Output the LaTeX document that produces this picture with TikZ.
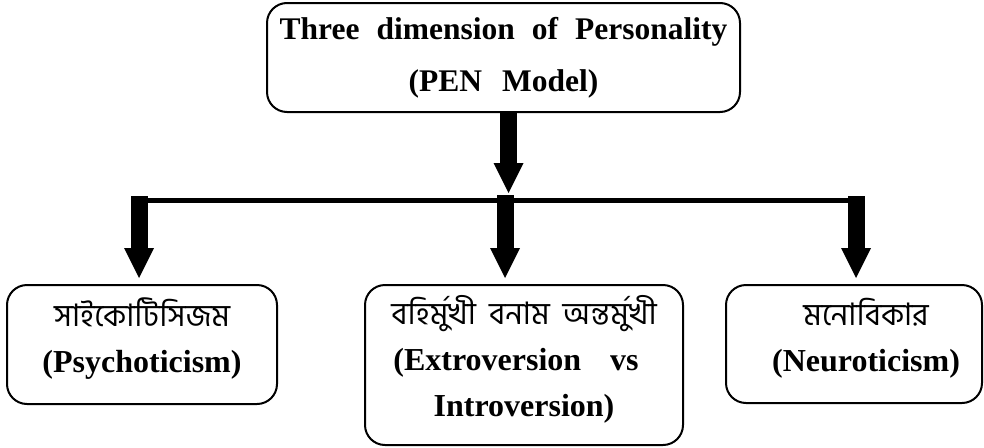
\documentclass[tikz,border=0pt]{standalone}
\usepackage{fontspec}
\setmainfont{Liberation Serif}
\newfontfamily\bengali[Script=Bengali]{Hind Siliguri}
\usetikzlibrary{arrows.meta,calc}

\newcommand{\bnline}[1]{{\bengali\mdseries\fontsize{31}{46}\selectfont #1}}
% extra depth under the last line lifts the text block a little
\newcommand{\lowpad}{\rule[-19pt]{0pt}{0pt}}

\begin{document}
\begin{tikzpicture}[x=1pt,y=-1pt,
  box/.style={draw, line width=2pt, rounded corners=20pt, align=center, inner sep=0pt,
    execute at begin node={\lineskiplimit=-100pt\relax}},
  entext/.style={font=\bfseries\fontsize{32}{46}\selectfont},
  blockarrow/.style={line width=17pt,
    -{Triangle[width=30pt,length=30pt,line width=0pt]}},
  bar/.style={line width=5pt}]
\useasboundingbox (0,0) rectangle (984,447);

% the four boxes
\node[box, font=\bfseries\fontsize{31.5}{52}\selectfont,
      minimum width=473pt, minimum height=109pt] (pen) at (503.5,57.5)
  {Three\hspace{17pt}dimension\hspace{17pt}of\hspace{17pt}Personality\\(PEN\hspace{20pt}Model)};

\node[box, entext, minimum width=270pt, minimum height=119pt] (psy) at (142,344.5)
  {\bnline{সাইকোটিসিজম}\\(Psychoticism)\lowpad};

\node[box, entext, minimum width=318pt, minimum height=160pt] (ext) at (524,365)
  {\bnline{বহির্মুখী\hspace{13pt}বনাম\hspace{13pt}অন্তর্মুখী}\\\kern-16pt(Extroversion\hspace{29pt}vs\\Introversion)\lowpad};

\node[box, entext, minimum width=256pt, minimum height=118pt] (neu) at (854,344)
  {\hspace*{24pt}\bnline{মনোবিকার}\\\hspace*{24pt}(Neuroticism)\lowpad};

% junctions on the horizontal bar
\coordinate (jL) at (139,200);
\coordinate (jM) at (505,200);
\coordinate (jR) at (856,200);
\coordinate (jT) at (508.5,193);

% connectors
\draw[bar] (jL) -- (jR);
\draw[blockarrow] (pen.south -| jT) -- (jT);
\draw[blockarrow] ($(jL)+(0,-4)$) -- ($(psy.north -| jL)+(0,-6)$);
\draw[blockarrow] ($(jM)+(0,-5)$) -- ($(ext.north -| jM)+(0,-6)$);
\draw[blockarrow] ($(jR)+(0,-4)$) -- ($(neu.north -| jR)+(0,-6)$);
\end{tikzpicture}
\end{document}
